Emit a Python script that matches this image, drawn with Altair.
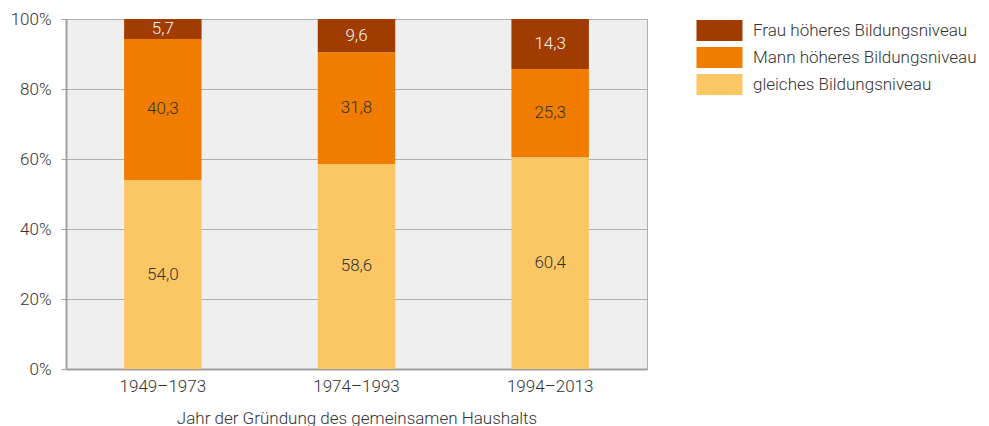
import altair as alt
import pandas as pd

periods = ["1949–1973", "1974–1993", "1994–2013"]
categories = ["Frau höheres Bildungsniveau", "Mann höheres Bildungsniveau", "gleiches Bildungsniveau"]
gleich = [54.0, 58.6, 60.4]
mann = [40.3, 31.8, 25.3]
frau = [5.7, 9.6, 14.3]
colors = ["#a03c00", "#f07d00", "#fbc765"]
text_colors = ["#f4f4f4", "#333333", "#333333"]

rows = []
for i, p in enumerate(periods):
    for k, (cat, vals) in enumerate(zip(categories, [frau, mann, gleich])):
        rows.append({
            "period": p,
            "cat": cat,
            "value": vals[i],
            "order": 2 - k,
            "label": f"{vals[i]:.1f}".replace(".", ","),
            "tcolor": text_colors[k],
        })
df = pd.DataFrame(rows)

FONT = "Roboto"
FS = 17

x = alt.X("period:N", sort=periods,
          scale=alt.Scale(paddingInner=0.6, paddingOuter=0.3),
          axis=alt.Axis(title="Jahr der Gründung des gemeinsamen Haushalts",
                        labelAngle=0, ticks=False, labelPadding=9,
                        titlePadding=16))

base = alt.Chart(df)

bars = base.mark_bar().encode(
    x=x,
    y=alt.Y("value:Q", stack="zero",
            scale=alt.Scale(domain=[0, 100], nice=False),
            axis=alt.Axis(title=None, values=[0, 20, 40, 60, 80, 100],
                          labelExpr="datum.value + '%'", tickSize=5,
                          labelPadding=10)),
    color=alt.Color("cat:N", sort=categories,
                    scale=alt.Scale(domain=categories, range=colors),
                    legend=alt.Legend(title=None, orient="right", offset=61,
                                      padding=0, labelLimit=0,
                                      symbolType="M-2,-0.91H2V0.91H-2Z",
                                      symbolSize=529, symbolStrokeWidth=0,
                                      symbolOpacity=1,
                                      rowPadding=5, labelOffset=22)),
    order=alt.Order("order:Q"),
)

texts = base.transform_stack(
    stack="value", groupby=["period"], as_=["y0", "y1"],
    sort=[alt.SortField("order", order="ascending")],
).transform_calculate(
    mid="(datum.y0 + datum.y1) / 2"
).mark_text(fontSize=FS, font=FONT, fontWeight=300, baseline="middle").encode(
    x=alt.X("period:N", sort=periods),
    y=alt.Y("mid:Q"),
    text="label:N",
    color=alt.Color("tcolor:N", scale=None),
)

chart = alt.layer(bars, texts).properties(
    width=581, height=350,
    padding={"left": 2, "top": 2, "right": 0, "bottom": 10},
).configure(
    font=FONT,
).configure_view(
    fill="#efefef", stroke="#b0b0b0", strokeWidth=1,
).configure_axis(
    labelFont=FONT, titleFont=FONT, labelFontSize=FS, titleFontSize=FS,
    labelFontWeight=300, titleFontWeight=300,
    labelColor="#333333", titleColor="#333333",
    gridColor="#b0b0b0", gridWidth=1, gridOpacity=1,
    domainColor="#a0a0a0", domainWidth=2,
    tickColor="#a0a0a0", tickWidth=1,
).configure_legend(
    labelFont=FONT, labelFontSize=FS, labelFontWeight=300, labelColor="#333333",
)

chart.save("out.html", embed_options={"renderer": "svg", "actions": False})
